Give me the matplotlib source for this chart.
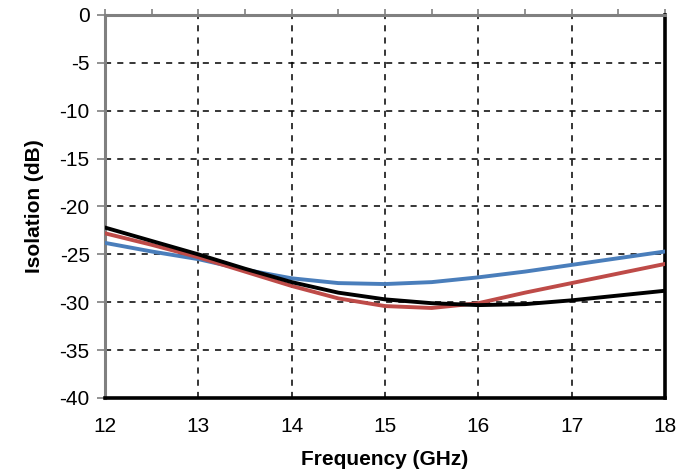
import numpy as np
import matplotlib.pyplot as plt
from matplotlib.ticker import MultipleLocator

plt.rcParams['font.family'] = ['Liberation Sans', 'DejaVu Sans']
plt.rcParams['axes.unicode_minus'] = False

# Frequency points (GHz)
freq = [12, 12.5, 13, 13.5, 14, 14.5, 15, 15.5, 16, 16.5, 17, 17.5, 18]

# Isolation curves (dB)
iso_blue = [-23.8, -24.7, -25.5, -26.6, -27.5, -28.0, -28.1, -27.9, -27.4, -26.8, -26.1, -25.4, -24.7]
iso_red = [-22.8, -24.0, -25.3, -26.8, -28.3, -29.6, -30.4, -30.6, -30.1, -29.0, -28.0, -27.0, -26.0]
iso_black = [-22.2, -23.6, -25.0, -26.5, -27.9, -29.0, -29.7, -30.1, -30.3, -30.2, -29.8, -29.3, -28.8]

fig = plt.figure(figsize=(6.92, 4.73), dpi=100)
ax = fig.add_axes([0.1517, 0.1586, 0.8093, 0.8097])

ax.plot(freq, iso_blue, color='#4a7ebb', lw=2.8, zorder=3, solid_joinstyle='round')
ax.plot(freq, iso_red, color='#be4b48', lw=2.8, zorder=4, solid_joinstyle='round')
ax.plot(freq, iso_black, color='black', lw=2.8, zorder=5, solid_joinstyle='round')

ax.set_xlim(12, 18)
ax.set_ylim(-40, 0)
ax.xaxis.set_major_locator(MultipleLocator(1))
ax.xaxis.set_minor_locator(MultipleLocator(0.5))
ax.yaxis.set_major_locator(MultipleLocator(5))

ax.grid(True, which='major', color='black', linestyle=(0, (4, 4)), lw=1.1)

# spines: gray top/left, black bottom/right
for s in ['top', 'left']:
    ax.spines[s].set_color('#808080')
    ax.spines[s].set_linewidth(2.2)
for s in ['bottom', 'right']:
    ax.spines[s].set_color('black')
    ax.spines[s].set_linewidth(2.6)

ax.tick_params(axis='x', which='both', bottom=False, top=True, labelbottom=True,
               direction='out', color='#808080', width=1.2, length=4, pad=10, labelsize=15)
ax.tick_params(axis='x', which='minor', length=4)
ax.tick_params(axis='y', direction='out', color='#808080', width=1.2, length=6,
               pad=5, labelsize=15)

ax.set_xlabel('Frequency (GHz)', fontsize=15, fontweight='bold', labelpad=10)
ax.set_ylabel('Isolation (dB)', fontsize=15, fontweight='bold', labelpad=11)

plt.savefig('out.png', dpi=100)
